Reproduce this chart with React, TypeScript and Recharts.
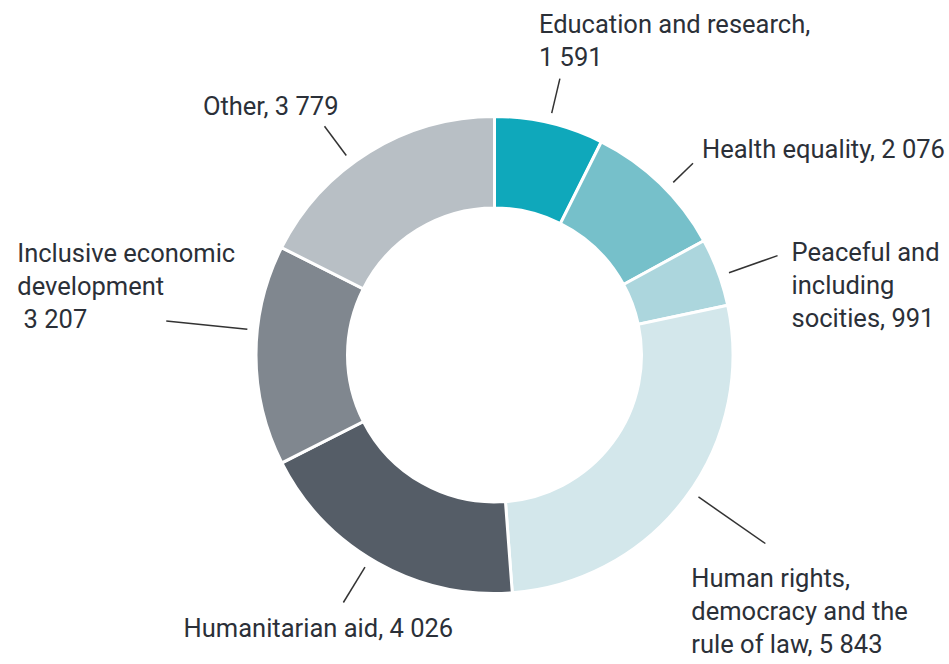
import { PieChart, Pie, Cell } from 'recharts';

const categories = [
  'Education and research',
  'Health equality',
  'Peaceful and including socities',
  'Human rights, democracy and the rule of law',
  'Humanitarian aid',
  'Inclusive economic development',
  'Other',
];
const amounts = [1591, 2076, 991, 5843, 4026, 3207, 3779];
const labelLines = [
  ['Education and research,', '1 591'],
  ['Health equality, 2 076'],
  ['Peaceful and', 'including', 'socities, 991'],
  ['Human rights,', 'democracy and the', 'rule of law, 5 843'],
  ['Humanitarian aid, 4 026'],
  ['Inclusive economic', 'development', ' 3 207'],
  ['Other, 3 779'],
];

const colors = ['#0fa8bb', '#76c0ca', '#acd6dd', '#d3e7eb', '#555d67', '#80878f', '#b8bfc5'];

// leader line / label layout per slice
const layout = [
  { tilt: 0, len: 284, dx: -21, dy: -46, anchor: 'start' },
  { tilt: 2, len: 276, dx: 9, dy: -5, anchor: 'start' },
  { tilt: 1, len: 300, dx: 14, dy: 5, anchor: 'start' },
  { tilt: -2, len: 330, dx: -74, dy: 43, anchor: 'start' },
  { tilt: 2, len: 290, dx: -25, dy: 34, anchor: 'middle' },
  { tilt: 6, len: 330, dx: -149, dy: -59, anchor: 'start' },
  { tilt: -5, len: 285, dx: 14, dy: -11, anchor: 'end' },
];

const data = categories.map((name, i) => ({ name, value: amounts[i] }));

const RAD = Math.PI / 180;
const LINE_H = 33;

const renderLabel = (props: any) => {
  const { cx, cy, midAngle, outerRadius, index } = props;
  const l = layout[index];
  const a = (midAngle - l.tilt) * RAD;
  const r1 = outerRadius + 10;
  const x1 = cx + r1 * Math.cos(a);
  const y1 = cy - r1 * Math.sin(a);
  const x2 = cx + l.len * Math.cos(a);
  const y2 = cy - l.len * Math.sin(a);
  return (
    <g key={`lbl-${index}`}>
      <line x1={x1} y1={y1} x2={x2} y2={y2} stroke="#333" strokeWidth={1.5} />
      <text
        x={x2 + l.dx}
        y={y2 + l.dy}
        textAnchor={l.anchor}
        fill="#2b3038"
        fontSize={25.5}
        fontFamily="Roboto"
        style={{ whiteSpace: 'pre' }}
      >
        {labelLines[index].map((t, j) => (
          <tspan key={j} x={x2 + l.dx} dy={j === 0 ? 0 : LINE_H}>
            {t}
          </tspan>
        ))}
      </text>
    </g>
  );
};

export default function App() {
  return (
    <div style={{ position: 'absolute', left: 0, top: 0, background: '#fff' }}>
      <PieChart width={949} height={664} margin={{ top: 0, right: 0, bottom: 0, left: 0 }}>
        <Pie
          data={data}
          dataKey="value"
          nameKey="name"
          cx={494.5}
          cy={355}
          innerRadius={147}
          outerRadius={238.5}
          startAngle={90}
          endAngle={-270}
          stroke="#fff"
          strokeWidth={3}
          label={renderLabel}
          labelLine={false}
          isAnimationActive={false}
        >
          {data.map((d, i) => (
            <Cell key={d.name} fill={colors[i]} />
          ))}
        </Pie>
      </PieChart>
    </div>
  );
}
